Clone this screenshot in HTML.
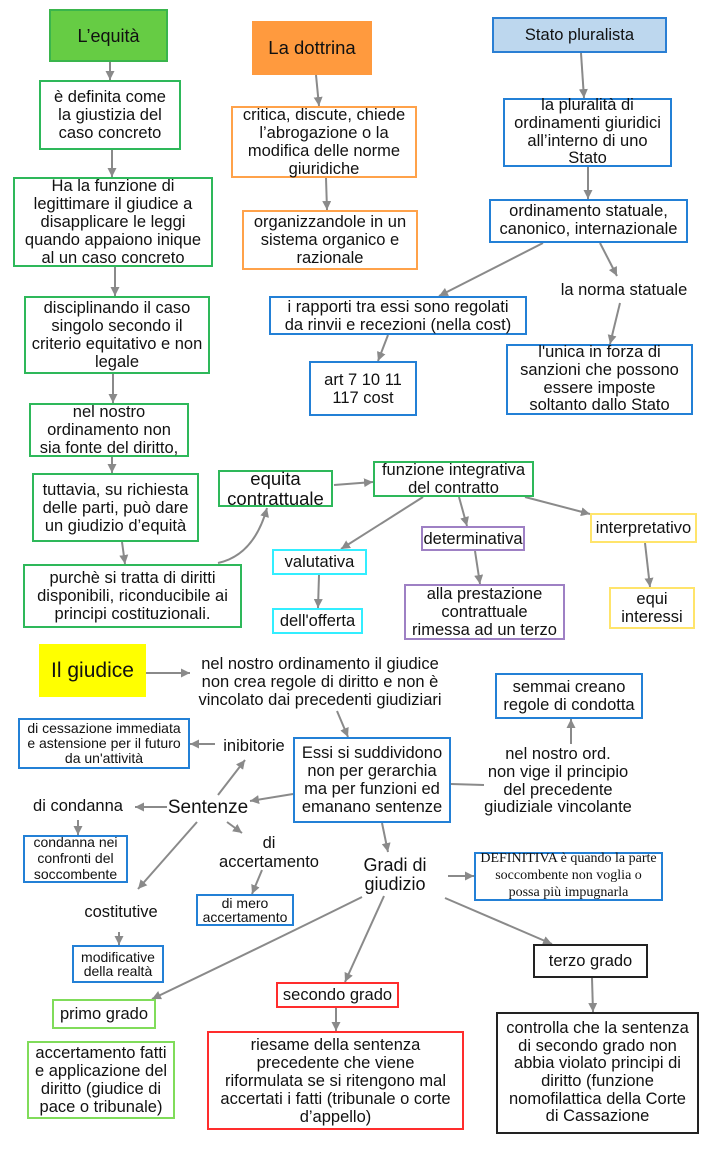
<!DOCTYPE html>
<html><head><meta charset="utf-8">
<style>
html,body{margin:0;padding:0;background:#fff;}
#c{position:relative;width:719px;height:1157px;overflow:hidden;font-family:"Liberation Sans",Arial,sans-serif;color:#111;}
.b{position:absolute;box-sizing:border-box;border:2px solid #2eb85a;display:flex;flex-direction:column;justify-content:center;align-items:center;text-align:center;font-size:16.5px;line-height:18px;white-space:nowrap;background:#fff;}
.t{position:absolute;text-align:center;font-size:16.5px;line-height:18px;white-space:nowrap;}
.g{border-color:#2eb85a;}
.o{border-color:#ffa24a;}
.bl{border-color:#2380d6;}
.cy{border-color:#33eeff;}
.pu{border-color:#9e80c4;}
.ye{border-color:#ffe46b;}
.lg{border-color:#80dc5a;}
.rd{border-color:#ff2d2d;}
.bk{border-color:#222;}
.s{font-size:14px;line-height:15px;}
svg{position:absolute;left:0;top:0;}
</style></head><body>
<div id="c">
<svg width="719" height="1157" viewBox="0 0 719 1157">
<defs>
<marker id="a" viewBox="0 0 10 10" refX="10" refY="5" markerWidth="9" markerHeight="9" markerUnits="userSpaceOnUse" orient="auto">
<path d="M0,0 L10,5 L0,10 z" fill="#8a8a8a"/>
</marker>
</defs>
<g stroke="#8a8a8a" stroke-width="2" fill="none" marker-end="url(#a)">
<line x1="110" y1="62" x2="110" y2="80"/>
<line x1="112" y1="150" x2="112" y2="177"/>
<line x1="115" y1="267" x2="115" y2="296"/>
<line x1="113" y1="374" x2="113" y2="403"/>
<line x1="112" y1="457" x2="112" y2="473"/>
<line x1="122" y1="542" x2="125" y2="564"/>
<path d="M218,563 Q254,555 267,508"/>
<line x1="334" y1="485" x2="373" y2="482"/>
<line x1="423" y1="497" x2="341" y2="549"/>
<line x1="319" y1="575" x2="318" y2="608"/>
<line x1="459" y1="497" x2="467" y2="526"/>
<line x1="475" y1="551" x2="480" y2="584"/>
<line x1="525" y1="497" x2="590" y2="514"/>
<line x1="645" y1="543" x2="650" y2="587"/>
<line x1="316" y1="75" x2="319" y2="106"/>
<line x1="326" y1="178" x2="327" y2="210"/>
<line x1="581" y1="53" x2="584" y2="98"/>
<line x1="588" y1="167" x2="588" y2="199"/>
<line x1="543" y1="243" x2="439" y2="296"/>
<line x1="600" y1="243" x2="617" y2="276"/>
<line x1="620" y1="303" x2="610" y2="344"/>
<line x1="388" y1="335" x2="378" y2="361"/>
<line x1="146" y1="673" x2="190" y2="673"/>
<line x1="337" y1="711" x2="348" y2="737"/>
<line x1="293" y1="794" x2="250" y2="801"/>
<line x1="218" y1="795" x2="245" y2="760"/>
<line x1="215" y1="744" x2="190" y2="744"/>
<line x1="167" y1="807" x2="135" y2="807"/>
<line x1="78" y1="820" x2="78" y2="835"/>
<line x1="227" y1="822" x2="242" y2="833"/>
<line x1="262" y1="870" x2="252" y2="894"/>
<line x1="197" y1="822" x2="138" y2="889"/>
<line x1="119" y1="932" x2="119" y2="945"/>
<line x1="382" y1="823" x2="388" y2="852"/>
<line x1="448" y1="876" x2="474" y2="876"/>
<line x1="571" y1="744" x2="571" y2="719"/>
<line x1="384" y1="896" x2="345" y2="982"/>
<path d="M362,897 Q265,945 152,999"/>
<line x1="336" y1="1008" x2="336" y2="1031"/>
<line x1="445" y1="898" x2="552" y2="944"/>
<line x1="592" y1="978" x2="593" y2="1012"/>
</g>
<line x1="451" y1="784" x2="484" y2="785" stroke="#8a8a8a" stroke-width="2"/>
</svg>

<!-- Equità column -->
<div class="b" style="left:49px;top:9px;width:119px;height:53px;background:#66cc44;border-color:#3ab54c;font-size:18px;line-height:20px;">L’equità</div>
<div class="b g" style="left:39px;top:80px;width:142px;height:70px;">è definita come<br>la giustizia del<br>caso concreto</div>
<div class="b g" style="left:13px;top:177px;width:200px;height:90px;">Ha la funzione di<br>legittimare il giudice a<br>disapplicare le leggi<br>quando appaiono inique<br>al un caso concreto</div>
<div class="b g" style="left:24px;top:296px;width:186px;height:78px;">disciplinando il caso<br>singolo secondo il<br>criterio equitativo e non<br>legale</div>
<div class="b g" style="left:29px;top:403px;width:160px;height:54px;">nel nostro<br>ordinamento non<br>sia fonte del diritto,</div>
<div class="b g" style="left:32px;top:473px;width:167px;height:69px;">tuttavia, su richiesta<br>delle parti, può dare<br>un giudizio d’equità</div>
<div class="b g" style="left:23px;top:564px;width:219px;height:64px;">purchè si tratta di diritti<br>disponibili, riconducibile ai<br>principi costituzionali.</div>
<div class="b g" style="left:218px;top:470px;width:115px;height:37px;font-size:18.5px;line-height:20px;">equita<br>contrattuale</div>
<div class="b g" style="left:373px;top:461px;width:161px;height:36px;">funzione integrativa<br>del contratto</div>
<div class="b cy" style="left:272px;top:549px;width:95px;height:26px;">valutativa</div>
<div class="b cy" style="left:272px;top:608px;width:91px;height:26px;">dell'offerta</div>
<div class="b pu" style="left:421px;top:526px;width:104px;height:25px;">determinativa</div>
<div class="b pu" style="left:404px;top:584px;width:161px;height:56px;">alla prestazione<br>contrattuale<br>rimessa ad un terzo</div>
<div class="b ye" style="left:590px;top:513px;width:107px;height:30px;">interpretativo</div>
<div class="b ye" style="left:609px;top:587px;width:86px;height:42px;">equi<br>interessi</div>

<!-- Dottrina -->
<div class="b" style="left:252px;top:21px;width:120px;height:54px;background:#ff9a3e;border-color:#ff9a3e;font-size:18.5px;line-height:20px;">La dottrina</div>
<div class="b o" style="left:231px;top:106px;width:186px;height:72px;">critica, discute, chiede<br>l’abrogazione o la<br>modifica delle norme<br>giuridiche</div>
<div class="b o" style="left:242px;top:210px;width:176px;height:60px;">organizzandole in un<br>sistema organico e<br>razionale</div>

<!-- Stato pluralista -->
<div class="b" style="left:492px;top:17px;width:175px;height:36px;background:#bdd7ee;border-color:#2a7fd4;font-size:16.5px;">Stato pluralista</div>
<div class="b bl" style="left:503px;top:98px;width:169px;height:69px;line-height:17.7px;">la pluralità di<br>ordinamenti giuridici<br>all’interno di uno<br>Stato</div>
<div class="b bl" style="left:489px;top:199px;width:199px;height:44px;line-height:17.7px;">ordinamento statuale,<br>canonico, internazionale</div>
<div class="b bl" style="left:269px;top:296px;width:258px;height:39px;">i rapporti tra essi sono regolati<br>da rinvii e recezioni (nella cost)</div>
<div class="b bl" style="left:309px;top:361px;width:108px;height:55px;">art 7 10 11<br>117 cost</div>
<div class="t" style="left:544px;top:281px;width:160px;">la norma statuale</div>
<div class="b bl" style="left:506px;top:344px;width:187px;height:71px;line-height:17.7px;">l'unica in forza di<br>sanzioni che possono<br>essere imposte<br>soltanto dallo Stato</div>

<!-- Il giudice -->
<div class="b" style="left:39px;top:644px;width:107px;height:53px;background:#ffff00;border-color:#ffff00;font-size:21px;line-height:24px;">Il giudice</div>
<div class="t" style="left:190px;top:655px;width:260px;">nel nostro ordinamento il giudice<br>non crea regole di diritto e non è<br>vincolato dai precedenti giudiziari</div>
<div class="b bl" style="left:293px;top:737px;width:158px;height:86px;">Essi si suddividono<br>non per gerarchia<br>ma per funzioni ed<br>emanano sentenze</div>
<div class="t" style="left:204px;top:737px;width:100px;">inibitorie</div>
<div class="b bl s" style="left:18px;top:718px;width:172px;height:51px;">di cessazione immediata<br>e astensione per il futuro<br>da un'attività</div>
<div class="t" style="left:148px;top:797px;width:120px;font-size:19px;line-height:22px;">Sentenze</div>
<div class="t" style="left:18px;top:797px;width:120px;">di condanna</div>
<div class="b bl s" style="left:23px;top:835px;width:105px;height:48px;line-height:15.8px;">condanna nei<br>confronti del<br>soccombente</div>
<div class="t" style="left:209px;top:834px;width:120px;line-height:18.5px;">di<br>accertamento</div>
<div class="b bl s" style="left:196px;top:894px;width:98px;height:32px;line-height:14.5px;">di mero<br>accertamento</div>
<div class="t" style="left:61px;top:903px;width:120px;">costitutive</div>
<div class="b bl s" style="left:72px;top:945px;width:92px;height:38px;line-height:14.5px;">modificative<br>della realtà</div>
<div class="b bl" style="left:495px;top:673px;width:148px;height:46px;">semmai creano<br>regole di condotta</div>
<div class="t" style="left:478px;top:746px;width:160px;line-height:17.8px;">nel nostro ord.<br>non vige il principio<br>del precedente<br>giudiziale vincolante</div>
<div class="t" style="left:335px;top:856px;width:120px;font-size:18px;line-height:19px;">Gradi di<br>giudizio</div>
<div class="b bl" style="left:474px;top:852px;width:189px;height:49px;font-family:'Liberation Serif','Times New Roman',serif;font-size:14px;line-height:16.7px;">DEFINITIVA è quando la parte<br>soccombente non voglia o<br>possa più impugnarla</div>

<!-- Gradi -->
<div class="b lg" style="left:52px;top:999px;width:104px;height:30px;">primo grado</div>
<div class="b lg" style="left:27px;top:1041px;width:148px;height:78px;">accertamento fatti<br>e applicazione del<br>diritto (giudice di<br>pace o tribunale)</div>
<div class="b rd" style="left:276px;top:982px;width:123px;height:26px;">secondo grado</div>
<div class="b rd" style="left:207px;top:1031px;width:257px;height:99px;">riesame della sentenza<br>precedente che viene<br>riformulata se si ritengono mal<br>accertati i fatti (tribunale o corte<br>d’appello)</div>
<div class="b bk" style="left:533px;top:944px;width:115px;height:34px;">terzo grado</div>
<div class="b bk" style="left:496px;top:1012px;width:203px;height:122px;line-height:17.7px;">controlla che la sentenza<br>di secondo grado non<br>abbia violato principi di<br>diritto (funzione<br>nomofilattica della Corte<br>di Cassazione</div>
</div>
</body></html>
